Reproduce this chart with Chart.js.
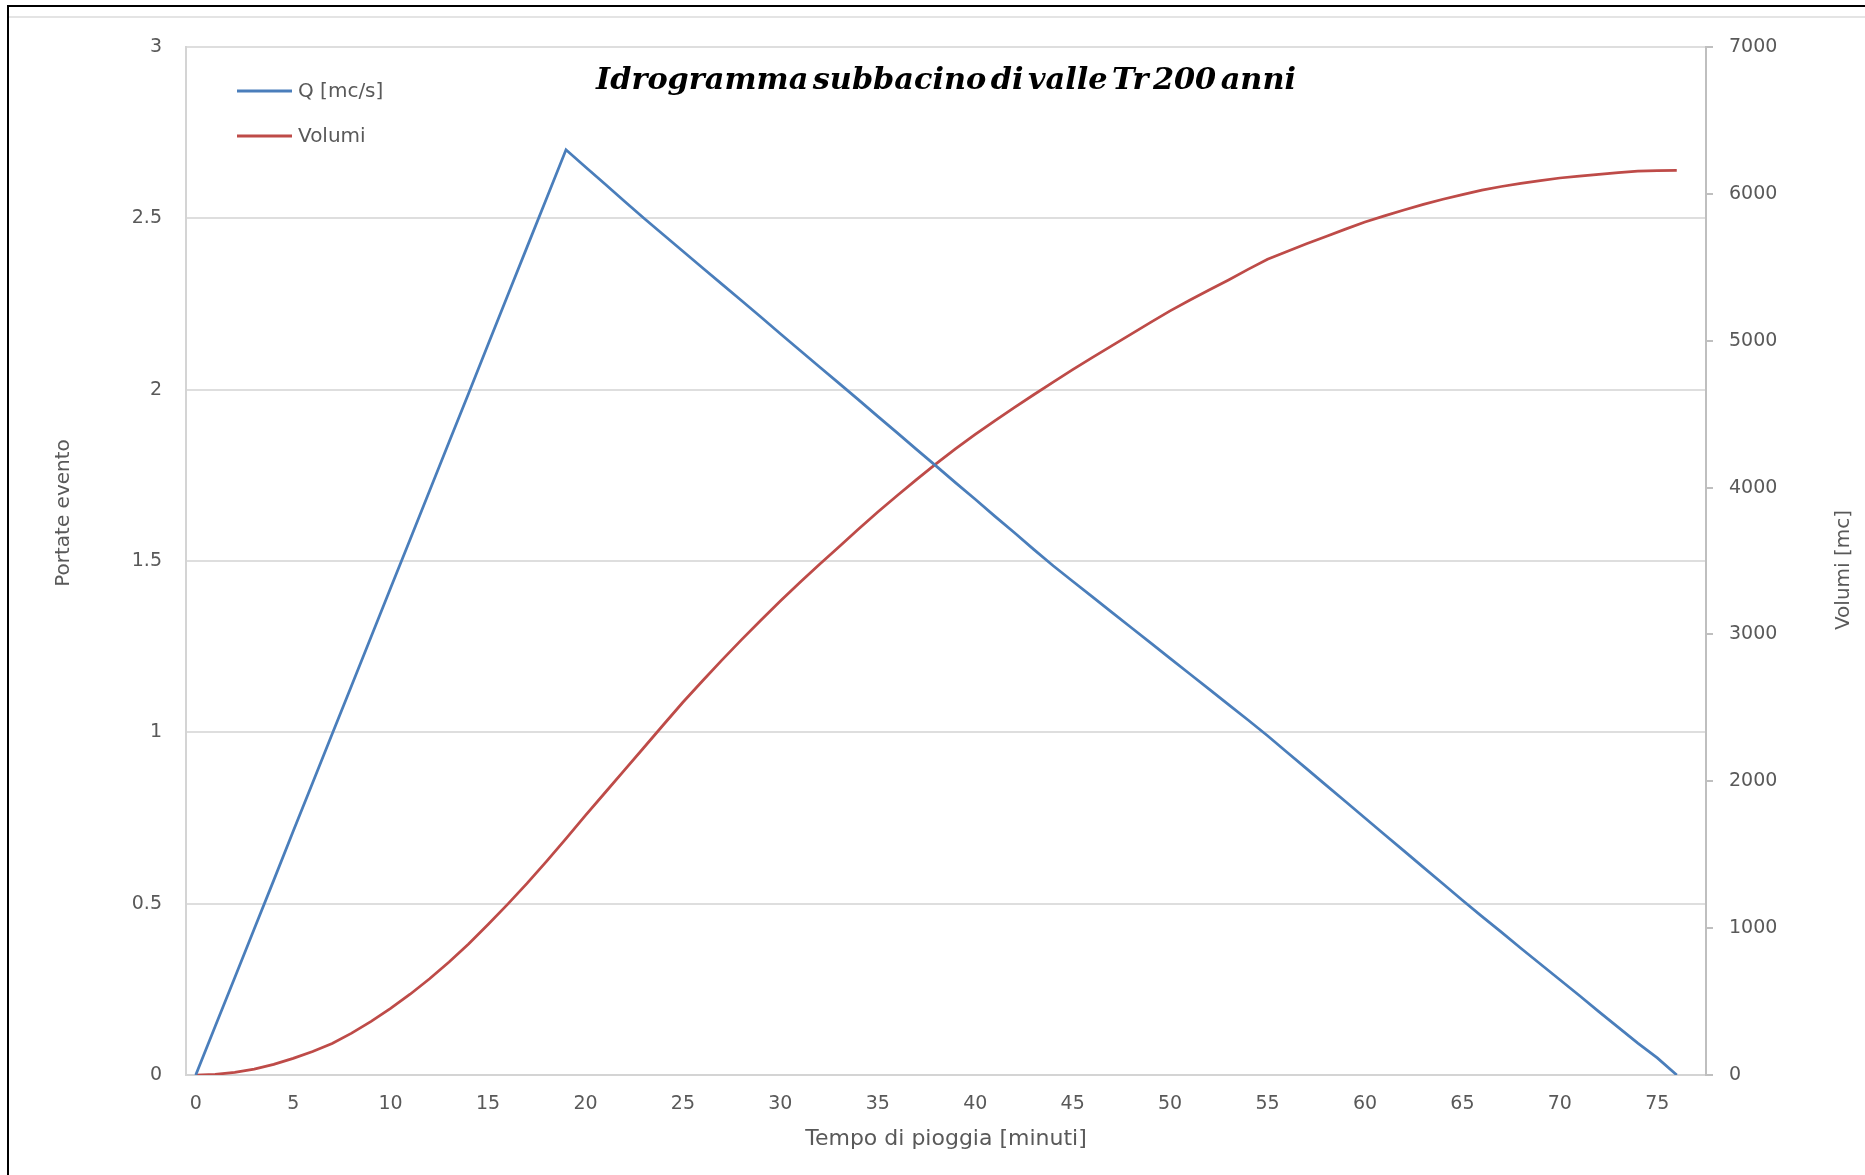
<!DOCTYPE html>
<html>
<head>
<meta charset="utf-8">
<title>Idrogramma subbacino di valle Tr 200 anni</title>
<script src="https://cdn.jsdelivr.net/npm/chart.js@4.4.0/dist/chart.umd.min.js"></script>
<style>
  html, body { margin: 0; padding: 0; background: #ffffff; }
  #sheet { position: absolute; left: 0; top: 0; width: 1865px; height: 1175px; overflow: hidden; }
  #edge { position: absolute; left: 7px; top: 5px; right: -4px; bottom: -4px;
          border-top: 2px solid #000; border-left: 2px solid #000; }
  #rule { position: absolute; left: 9px; top: 16px; right: 0; height: 2px; background: #e4e4e4; }
  #chart { position: absolute; left: 0; top: 0; }
</style>
</head>
<body>
<div id="sheet">
  <div id="edge"></div>
  <div id="rule"></div>
  <canvas id="chart" width="1865" height="1175"></canvas>
</div>
<script>
// Tempo di pioggia [minuti]
const minuti = [0, 1, 2, 3, 4, 5, 6, 7, 8, 9, 10, 11, 12, 13, 14, 15, 16, 17, 18, 19,
  20, 21, 22, 23, 24, 25, 26, 27, 28, 29, 30, 31, 32, 33, 34, 35, 36, 37, 38, 39,
  40, 41, 42, 43, 44, 45, 46, 47, 48, 49, 50, 51, 52, 53, 54, 55, 56, 57, 58, 59,
  60, 61, 62, 63, 64, 65, 66, 67, 68, 69, 70, 71, 72, 73, 74, 75, 76];

// Portata Q [mc/s]
const portata = [0.000, 0.142, 0.284, 0.426, 0.568, 0.711, 0.853, 0.995, 1.137, 1.279,
  1.421, 1.563, 1.705, 1.847, 1.989, 2.132, 2.274, 2.416, 2.558, 2.700,
  2.650, 2.600, 2.550, 2.500, 2.452, 2.404, 2.356, 2.308, 2.260, 2.212,
  2.163, 2.115, 2.067, 2.019, 1.971, 1.922, 1.874, 1.825, 1.777, 1.728,
  1.680, 1.631, 1.583, 1.534, 1.486, 1.441, 1.396, 1.351, 1.306, 1.261,
  1.216, 1.171, 1.126, 1.081, 1.036, 0.990, 0.942, 0.894, 0.846, 0.798,
  0.750, 0.702, 0.654, 0.606, 0.558, 0.510, 0.463, 0.417, 0.370, 0.324,
  0.278, 0.232, 0.185, 0.139, 0.093, 0.050, 0.000];

// Volumi cumulati [mc]
const volumi = [0, 4, 18, 40, 72, 113, 160, 215, 285, 365,
  453, 550, 655, 770, 892, 1025, 1162, 1305, 1455, 1610,
  1768, 1922, 2076, 2230, 2385, 2538, 2683, 2825, 2963, 3097,
  3228, 3354, 3476, 3596, 3716, 3834, 3946, 4056, 4163, 4265,
  4362, 4455, 4545, 4632, 4718, 4803, 4885, 4965, 5045, 5125,
  5203, 5276, 5345, 5414, 5486, 5555, 5608, 5660, 5710, 5760,
  5808, 5850, 5890, 5928, 5963, 5995, 6025, 6050, 6071, 6090,
  6108, 6121, 6133, 6145, 6154, 6158, 6160];

const tickMinuti = [0, 5, 10, 15, 20, 25, 30, 35, 40, 45, 50, 55, 60, 65, 70, 75];
const tickPortata = [0, 0.5, 1, 1.5, 2, 2.5, 3];
const tickVolumi = [0, 1000, 2000, 3000, 4000, 5000, 6000, 7000];

const titolo = 'Idrogramma subbacino di valle Tr 200 anni';
const titoloX = 'Tempo di pioggia [minuti]';
const titoloY = 'Portate evento';
const titoloY2 = 'Volumi [mc]';

const SANS = '"DejaVu Sans", "Noto Sans", sans-serif';
const GREY_TEXT = '#595959';

const toPoints = (ys) => minuti.map((t, i) => ({ x: t, y: ys[i] }));
const fixedTicks = (list) => (scale) => { scale.ticks = list.map(v => ({ value: v })); };

// Title, in-plot legend and axis titles drawn on top of the chart
const decorations = {
  id: 'decorations',
  afterDraw(chart) {
    const { ctx, chartArea: a } = chart;
    const cx = (a.left + a.right) / 2;

    // chart title, overlaid inside the plot area
    ctx.save();
    ctx.font = 'bold italic 30px "DejaVu Serif", "Liberation Serif", serif';
    if ('wordSpacing' in ctx) ctx.wordSpacing = '-6px';
    ctx.fillStyle = '#000000';
    ctx.textAlign = 'center';
    ctx.textBaseline = 'alphabetic';
    const w = ctx.measureText(titolo).width;
    const sx = 700 / w;
    ctx.translate(cx, 89);
    ctx.scale(sx, 1);
    ctx.fillText(titolo, 0, 0);
    ctx.restore();

    // legend
    ctx.save();
    ctx.font = '20px ' + SANS;
    ctx.textAlign = 'left';
    ctx.textBaseline = 'middle';
    chart.data.datasets.forEach((ds, i) => {
      const y = a.top + 44 + i * 45;
      ctx.strokeStyle = ds.borderColor;
      ctx.lineWidth = 3;
      ctx.beginPath();
      ctx.moveTo(a.left + 51, y);
      ctx.lineTo(a.left + 106, y);
      ctx.stroke();
      ctx.fillStyle = GREY_TEXT;
      ctx.fillText(ds.label, a.left + 112, y + 1);
    });
    ctx.restore();

    // axis titles
    ctx.save();
    ctx.fillStyle = GREY_TEXT;
    ctx.textAlign = 'center';
    ctx.textBaseline = 'middle';
    ctx.font = '22px ' + SANS;
    ctx.fillText(titoloX, cx, 1139);
    ctx.font = '20px ' + SANS;
    ctx.save();
    ctx.translate(64, 513);
    ctx.rotate(-Math.PI / 2);
    ctx.fillText(titoloY, 0, 0);
    ctx.restore();
    ctx.save();
    ctx.translate(1844, 570);
    ctx.rotate(-Math.PI / 2);
    ctx.fillText(titoloY2, 0, 0);
    ctx.restore();
    ctx.restore();
  }
};

new Chart(document.getElementById('chart'), {
  type: 'line',
  data: {
    datasets: [
      {
        label: 'Q [mc/s]',
        data: toPoints(portata),
        yAxisID: 'y',
        borderColor: '#4a7ebb',
        borderWidth: 2.75,
        pointRadius: 0,
        tension: 0,
        fill: false
      },
      {
        label: 'Volumi',
        data: toPoints(volumi),
        yAxisID: 'y2',
        borderColor: '#be4b48',
        borderWidth: 2.75,
        pointRadius: 0,
        tension: 0,
        fill: false
      }
    ]
  },
  options: {
    responsive: false,
    animation: false,
    devicePixelRatio: 1,
    layout: { padding: { top: 47, left: 0, right: 0, bottom: 0 } },
    plugins: {
      legend: { display: false },
      tooltip: { enabled: false },
      title: { display: false }
    },
    scales: {
      x: {
        type: 'linear',
        min: -0.5,
        max: 77.5,
        afterBuildTicks: fixedTicks(tickMinuti),
        afterFit: (s) => { s.height = 100; },
        grid: { display: true, drawOnChartArea: false, drawTicks: false },
        border: { display: true, color: '#d4d4d4', width: 2 },
        ticks: {
          autoSkip: false,
          maxRotation: 0,
          padding: 18,
          color: GREY_TEXT,
          font: { family: SANS, size: 19 },
          callback: (v) => String(v)
        }
      },
      y: {
        type: 'linear',
        position: 'left',
        min: 0,
        max: 3,
        afterBuildTicks: fixedTicks(tickPortata),
        afterFit: (s) => { s.width = 186; },
        grid: { color: '#dedede', lineWidth: 2, drawTicks: false },
        border: { display: true, color: '#d4d4d4', width: 2 },
        ticks: {
          padding: 24,
          color: GREY_TEXT,
          font: { family: SANS, size: 19 },
          callback: (v) => String(v)
        }
      },
      y2: {
        type: 'linear',
        position: 'right',
        min: 0,
        max: 7000,
        afterBuildTicks: fixedTicks(tickVolumi),
        afterFit: (s) => { s.width = 159; },
        grid: { drawOnChartArea: false, drawTicks: true, tickLength: 7, color: '#bfbfbf', lineWidth: 2 },
        border: { display: true, color: '#bfbfbf', width: 2 },
        ticks: {
          padding: 16,
          color: GREY_TEXT,
          font: { family: SANS, size: 19 },
          callback: (v) => String(v)
        }
      }
    }
  },
  plugins: [decorations]
});
</script>
</body>
</html>
